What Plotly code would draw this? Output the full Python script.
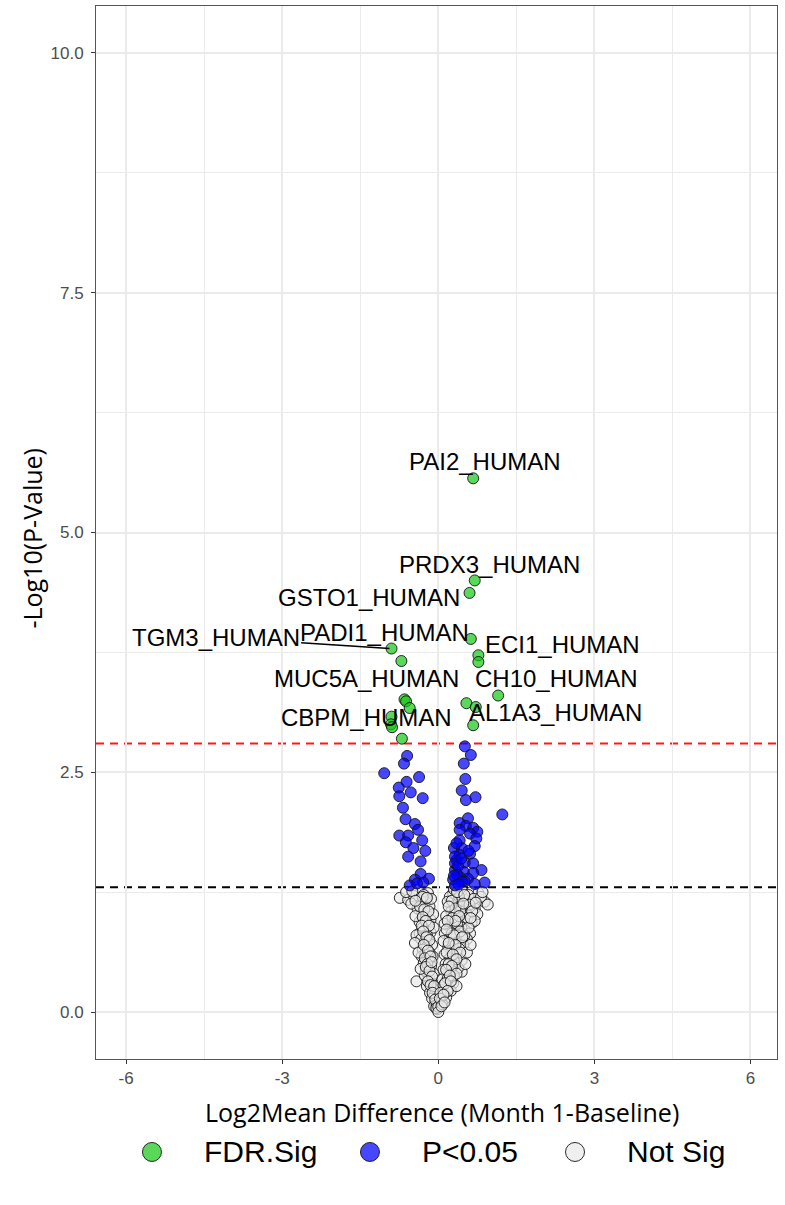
import plotly.graph_objects as go

# ---- data: log2 mean difference (x) vs -log10(p) (y) ----
fdr_x = [0.67, 0.70, 0.60, 0.625, 0.77, 0.77, -0.90, -0.71, -0.65, -0.62, -0.55,
         -0.90, -0.91, -0.89, -0.70, 1.15, 0.54, 0.72, 0.67]
fdr_y = [5.565, 4.50, 4.37, 3.89, 3.72, 3.65, 3.79, 3.66, 3.26, 3.24, 3.17,
         3.08, 3.00, 2.97, 2.85, 3.30, 3.22, 3.18, 2.99]

p05_x = [-0.60, -0.66, -1.04, -0.37, -0.61, -0.76, -0.53, -0.75, -0.30, -0.68,
         -0.63, -0.45, -0.39, -0.75, -0.58, -0.625, -0.31, -0.48, -0.25, -0.58,
         -0.34, -0.34, -0.18, -0.45, -0.29, -0.55, -0.41,
         0.51, 0.625, 0.49, 0.52, 0.45, 0.715, 0.53, 1.23, 0.57, 0.41, 0.53, 0.67,
         0.75, 0.61, 0.41, 0.73, 0.70, 0.45, 0.30, 0.61, 0.41, 0.35, 0.51, 0.67,
         0.83, 0.32, 0.49, 0.67, 0.41, 0.57, 0.285, 0.51, 0.89, 0.32, 0.70, 0.41,
         0.35, 0.32, 0.32, 0.38, 0.44, 0.36, 0.58, 0.30, 0.46, 0.39]
p05_y = [2.67, 2.59, 2.49, 2.45, 2.40, 2.34, 2.29, 2.25, 2.23, 2.13,
         2.01, 1.96, 1.90, 1.84, 1.84, 1.77, 1.79, 1.71, 1.68, 1.62,
         1.57, 1.44, 1.39, 1.38, 1.35, 1.32, 1.34,
         2.77, 2.68, 2.59, 2.43, 2.31, 2.24, 2.21, 2.06, 2.02, 1.97, 1.94, 1.92,
         1.88, 1.86, 1.79, 1.81, 1.73, 1.71, 1.71, 1.65, 1.64, 1.585, 1.56, 1.55,
         1.48, 1.48, 1.46, 1.45, 1.41, 1.39, 1.38, 1.36, 1.35, 1.32, 1.335, 1.90,
         1.76, 1.62, 1.55, 1.52, 1.60, 1.43, 1.68, 1.42, 1.36, 1.33]

ns_x = [-0.74, -0.58, -0.36, -0.39, -0.20, -0.28, -0.47, -0.31, -0.25, -0.32,
        -0.23, -0.40, -0.17, -0.36, -0.20, -0.28, -0.15, -0.26, -0.36, -0.42,
        -0.20, -0.26, -0.33, -0.15, -0.45, -0.22, -0.30, -0.12, -0.32, -0.25,
        -0.18, -0.28, -0.20, -0.14, -0.24, -0.42, -0.13, -0.18, -0.22, -0.10,
        -0.16, -0.07, -0.12, -0.05, -0.08, -0.03, -0.02, -0.26, -0.09, -0.34,
        -0.38, -0.11, -0.30, -0.09, -0.44, -0.52, -0.14, -0.10, -0.22, -0.17,
        -0.30, -0.22, -0.35, -0.27, -0.19, -0.30, -0.24, -0.32, -0.18, -0.29,
        -0.23, -0.17, -0.28, -0.20, -0.26, -0.15, -0.21, -0.24, -0.17, -0.12,
        -0.20, -0.15, -0.08, -0.11, -0.06, -0.04, -0.13, -0.62, -0.50, -0.44,
        0.285, 0.45, 0.64, 0.77, 0.89, 0.51, 0.35, 0.70, 0.54, 0.25,
        0.38, 0.48, 0.64, 0.22, 0.32, 0.51, 0.61, 0.125, 0.22, 0.40,
        0.19, 0.35, 0.45, 0.32, 0.45, 0.19, 0.285, 0.16, 0.125, 0.06,
        0.00, 0.00, 0.22, 0.30, 0.58, 0.40, 0.68, 0.82, 0.18, 0.45,
        0.60, 0.30, 0.42, 0.75, 0.15, 0.56, 0.28, 0.70, 0.12, 0.44,
        0.36, 0.55, 0.28, 0.10, 0.48, 0.25, 0.40, 0.12, 0.22, 0.55,
        0.30, 0.14, 0.38, 0.24, 0.10, 0.30, 0.08, 0.20, 0.24, 0.10,
        0.15, 0.04, 0.08, 0.03, 0.18, 0.52, 0.35, 0.62, 0.50, 0.26,
        0.16, 0.65, 0.95, 0.36,
        0.26, 0.36, 0.50, 0.33, 0.48, 0.20, 0.27, 0.40, 0.33, 0.18,
        0.42, 0.30, 0.16, 0.46, 0.33, 0.20, 0.42, 0.28, 0.35, 0.20,
        0.26, 0.15, 0.35, 0.22, 0.13, 0.24, 0.18, 0.10, 0.06, 0.12,
        0.58, 0.72, 0.85, 0.62]
ns_y = [1.19, 1.17, 1.17, 1.27, 1.24, 1.22, 1.21, 1.12, 1.15, 1.05,
        1.03, 1.08, 1.10, 0.94, 0.93, 0.98, 0.96, 0.86, 0.82, 0.80,
        0.77, 0.73, 0.76, 0.83, 0.72, 0.68, 0.65, 0.70, 0.58, 0.60,
        0.55, 0.51, 0.46, 0.48, 0.42, 0.32, 0.30, 0.36, 0.27, 0.24,
        0.20, 0.18, 0.14, 0.10, 0.06, 0.07, 0.03, 0.38, 0.40, 0.45,
        0.62, 0.58, 0.88, 0.88, 1.00, 1.13, 1.18, 1.02, 0.80, 0.62,
        1.20, 1.19, 1.10, 1.07, 1.05, 0.99, 0.95, 0.90, 0.90, 0.84,
        0.78, 0.75, 0.70, 0.64, 0.56, 0.58, 0.50, 0.47, 0.43, 0.37,
        0.32, 0.28, 0.27, 0.20, 0.13, 0.04, 0.52, 1.25, 1.26, 1.16,
        1.24, 1.27, 1.25, 1.24, 1.15, 1.17, 1.12, 1.08, 1.03, 1.05,
        0.96, 0.94, 0.925, 0.89, 0.855, 0.855, 0.82, 0.82, 0.77, 0.75,
        0.68, 0.61, 0.54, 0.49, 0.42, 0.40, 0.30, 0.32, 0.195, 0.11,
        0.055, 0.00, 1.20, 1.28, 1.22, 1.20, 1.18, 1.20, 1.15, 1.10,
        1.12, 1.02, 1.05, 1.02, 1.00, 0.98, 0.93, 0.95, 0.92, 0.88,
        0.80, 0.76, 0.72, 0.74, 0.70, 0.64, 0.66, 0.60, 0.56, 0.62,
        0.53, 0.50, 0.46, 0.44, 0.44, 0.38, 0.34, 0.26, 0.22, 0.28,
        0.15, 0.20, 0.08, 0.14, 0.35, 0.50, 0.27, 0.70, 0.80, 0.82,
        0.62, 1.05, 1.12, 0.92,
        1.16, 1.25, 1.22, 1.08, 1.13, 1.10, 0.98, 1.00, 0.95, 0.95,
        0.84, 0.80, 0.86, 0.78, 0.70, 0.72, 0.62, 0.60, 0.55, 0.50,
        0.48, 0.44, 0.40, 0.38, 0.30, 0.32, 0.22, 0.18, 0.06, 0.10,
        0.88, 1.14, 1.25, 0.98]

# labelled proteins: index into the FDR-significant series, and label placement
label_names = ["PAI2_HUMAN", "PRDX3_HUMAN", "GSTO1_HUMAN", "PADI1_HUMAN", "TGM3_HUMAN",
               "ECI1_HUMAN", "MUC5A_HUMAN", "CH10_HUMAN", "CBPM_HUMAN", "AL1A3_HUMAN"]
label_point = [0, 1, 2, 3, 6, 4, 7, 15, 11, 17]
label_x = [0.894, 0.99, -1.34, -1.03, -4.28, 2.39, -1.39, 2.28, -1.375, 2.26]
label_y = [5.745, 4.67, 4.32, 3.96, 3.91, 3.83, 3.48, 3.48, 3.07, 3.12]
label_segment = [False, False, False, False, True, False, False, False, False, False]

# significance thresholds (-log10 p)
fdr_cut = 2.8
p_cut = 1.301

x_ticks = [-6, -3, 0, 3, 6]
y_ticks = [0.0, 2.5, 5.0, 7.5, 10.0]

groups = ["FDR.Sig", "P<0.05", "Not Sig"]
fills = ["rgba(20,200,20,0.70)", "rgba(0,0,255,0.72)", "rgba(232,232,232,0.70)"]

W, H = 785, 1205
M = dict(l=96, r=8, t=6, b=146)

fig = go.Figure()
outline = dict(color="rgba(20,20,20,0.9)", width=1)
for gx, gy, fill in [(ns_x, ns_y, fills[2]), (p05_x, p05_y, fills[1]), (fdr_x, fdr_y, fills[0])]:
    fig.add_trace(go.Scatter(x=gx, y=gy, mode="markers", showlegend=False, hoverinfo="skip",
                             marker=dict(size=11, color=fill, line=outline)))

fig.add_hline(y=fdr_cut, line=dict(color="#ff1a1a", width=2, dash="8px,6px"), layer="below")
fig.add_hline(y=p_cut, line=dict(color="black", width=2, dash="8px,6px"), layer="below")

lab_font = dict(family="Liberation Sans, Arial", size=24, color="black")
for name, pi, lx, ly, seg in zip(label_names, label_point, label_x, label_y, label_segment):
    if seg:
        fig.add_annotation(x=fdr_x[pi], y=fdr_y[pi], ax=lx, ay=ly, axref="x", ayref="y",
                           text=name, font=lab_font, showarrow=True, arrowhead=0,
                           arrowwidth=1.5, arrowcolor="black", standoff=2, startstandoff=0)
    else:
        fig.add_annotation(x=lx, y=ly, text=name, font=lab_font, showarrow=False)

# axis titles
title_font = dict(family="Open Sans", size=25, color="black")
fig.add_annotation(xref="paper", yref="paper", x=0.508, y=-0.0503,
                   text="Log2Mean Difference (Month 1-Baseline)", font=title_font,
                   showarrow=False, xanchor="center", yanchor="middle")
fig.add_annotation(xref="paper", yref="paper", x=-0.0945, y=0.4948,
                   text="-Log10(P-Value)", font=title_font, textangle=-90,
                   showarrow=False, xanchor="center", yanchor="middle")

# legend keys below the panel
leg_key_x = [0.0822, 0.4023, 0.7034]
leg_text_x = [0.1557, 0.4758, 0.7768]
leg_y = -0.0883
for g, fill, kx, tx in zip(groups, fills, leg_key_x, leg_text_x):
    fig.add_shape(type="circle", xref="paper", yref="paper", xsizemode="pixel", ysizemode="pixel",
                  xanchor=kx, yanchor=leg_y, x0=-9.5, x1=9.5, y0=-9.5, y1=9.5,
                  fillcolor=fill, line=dict(color="rgba(20,20,20,0.9)", width=1))
    fig.add_annotation(xref="paper", yref="paper", x=tx, y=leg_y, text=g, showarrow=False,
                       xanchor="left", yanchor="middle",
                       font=dict(family="Liberation Sans, Arial", size=30, color="black"))

axis_common = dict(showgrid=True, gridcolor="#ebebeb", gridwidth=1.6, zeroline=False,
                   showline=True, mirror=True, linecolor="#555555", linewidth=1,
                   ticks="outside", ticklen=4, tickwidth=1, tickcolor="#333333",
                   tickfont=dict(family="Liberation Sans, Arial", size=17, color="#4d4d4d"))

fig.update_layout(
    width=W, height=H, margin=M,
    paper_bgcolor="white", plot_bgcolor="white",
    showlegend=False,
    xaxis=dict(range=[-6.58, 6.51], tickvals=x_ticks, ticktext=[str(t) for t in x_ticks],
               minor=dict(tickvals=[-4.5, -1.5, 1.5, 4.5], showgrid=True,
                          gridcolor="#ebebeb", gridwidth=0.9),
               **axis_common),
    yaxis=dict(range=[-0.49, 10.49], tickvals=y_ticks, ticktext=[f"{t:.1f}" for t in y_ticks],
               minor=dict(tickvals=[1.25, 3.75, 6.25, 8.75], showgrid=True,
                          gridcolor="#ebebeb", gridwidth=0.9),
               ticklabelstandoff=4,
               **axis_common),
)

fig.write_html("out.html")
